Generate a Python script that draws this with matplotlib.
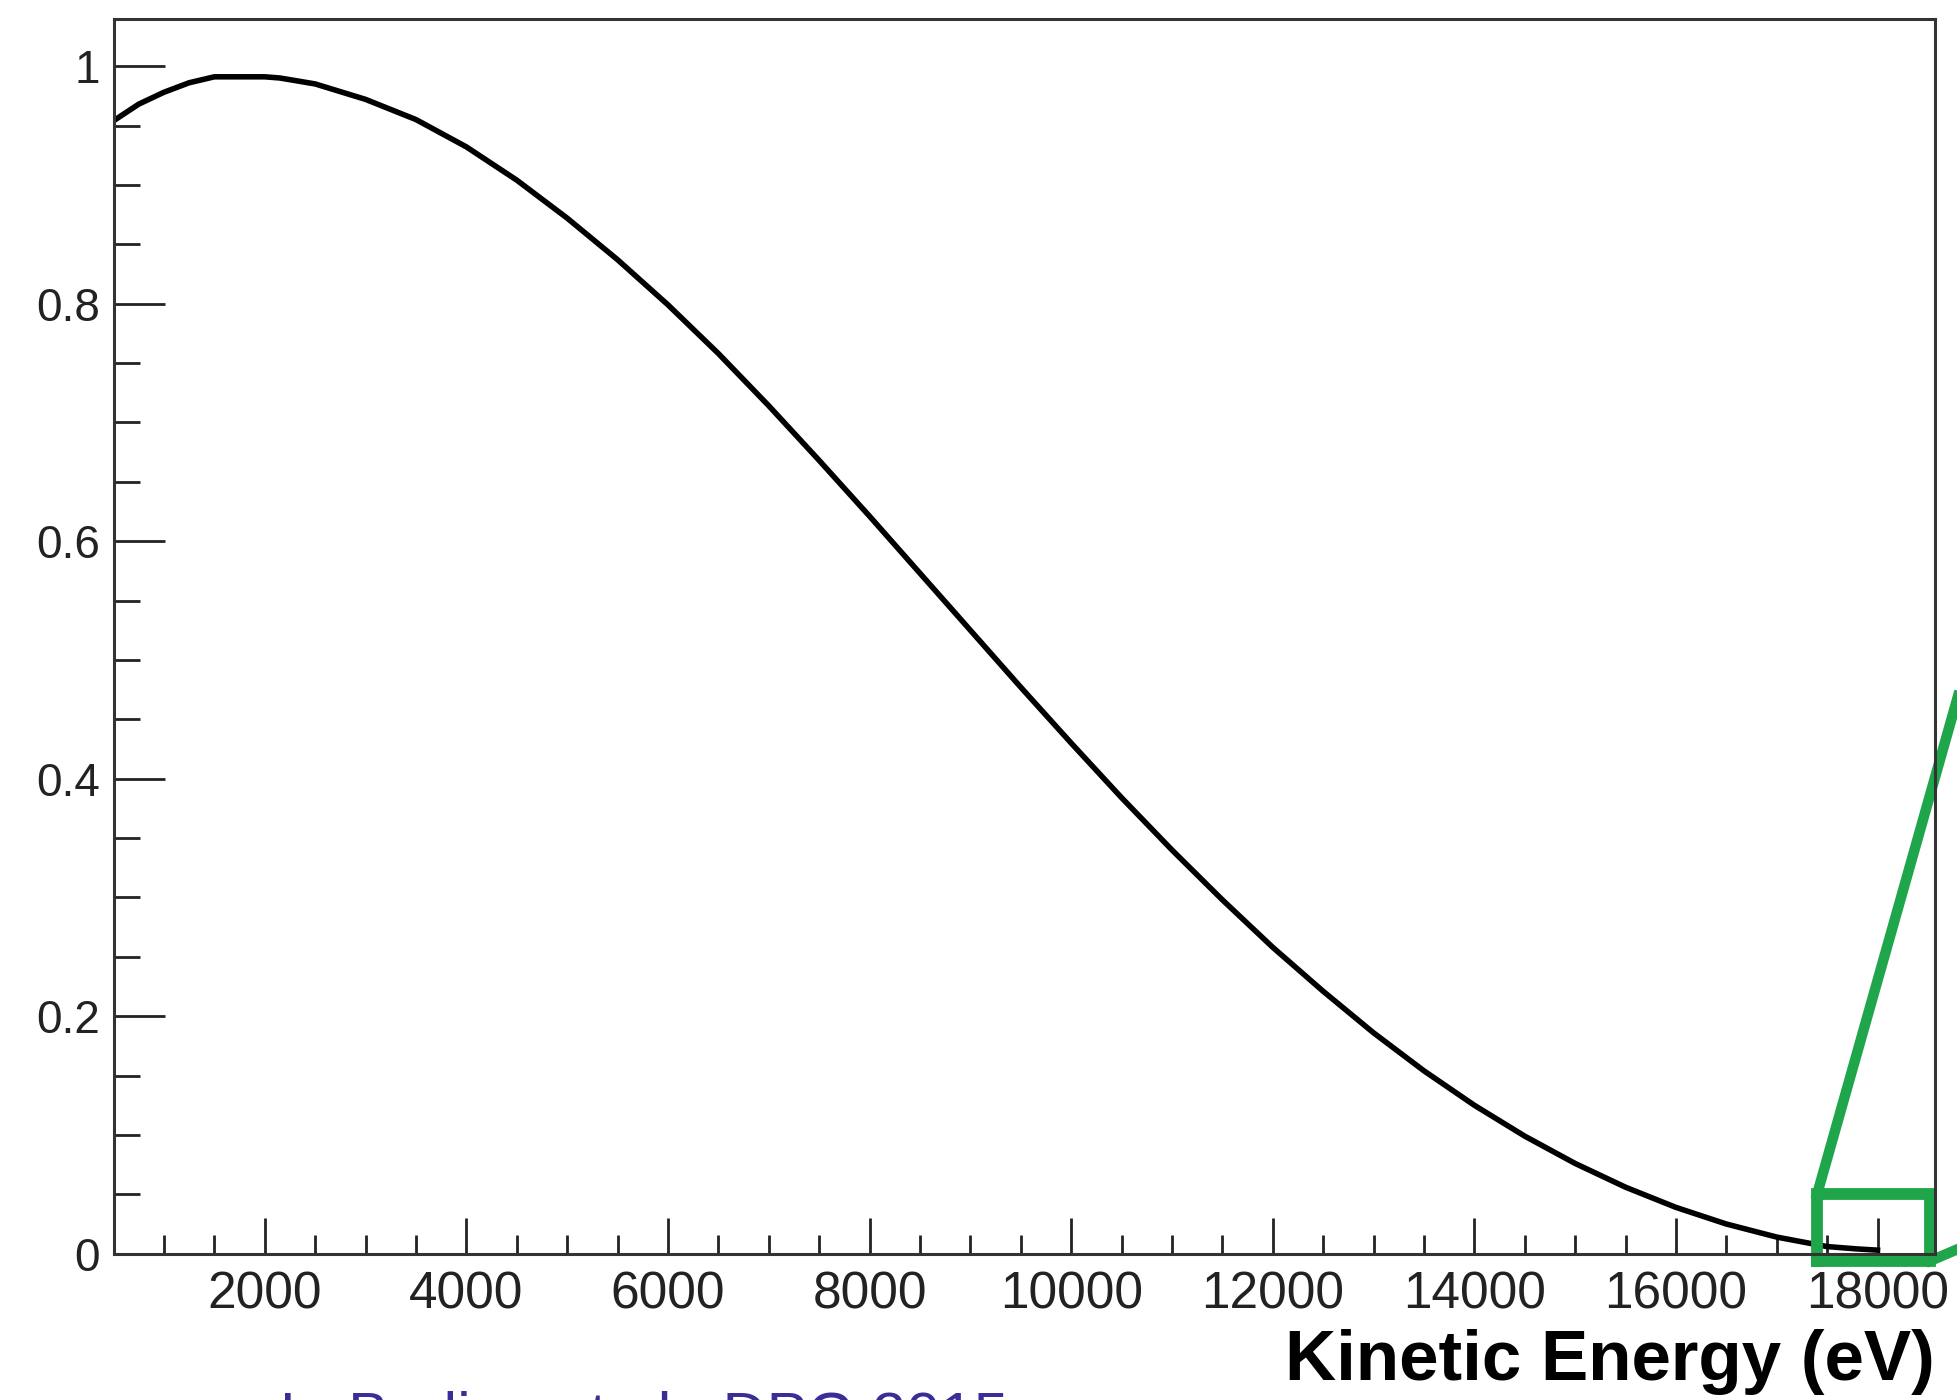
import numpy as np
import matplotlib
matplotlib.use('Agg')
from matplotlib import pyplot as plt
from matplotlib.ticker import MultipleLocator, FuncFormatter

# 读图得到的曲线点 (eV, 相对值)
energy = [500, 750, 1000, 1250, 1500, 2000, 2150, 2500, 3000, 3500, 4000, 4500,
          5000, 5500, 6000, 6500, 7000, 7500, 8000, 8500, 9000, 9500,
          10000, 10500, 11000, 11500, 12000, 12500, 13000, 13500, 14000,
          14500, 15000, 15500, 16000, 16500, 17000, 17500, 17800, 18000]
value = [0.954, 0.968, 0.978, 0.986, 0.991, 0.991, 0.990, 0.985, 0.972, 0.955,
         0.932, 0.904, 0.872, 0.837, 0.799, 0.758, 0.714, 0.668, 0.621, 0.573,
         0.525, 0.477, 0.430, 0.384, 0.340, 0.298, 0.258, 0.221, 0.186,
         0.154, 0.125, 0.099, 0.076, 0.056, 0.039, 0.025, 0.014, 0.006,
         0.004, 0.003]

x_ticks = [2000, 4000, 6000, 8000, 10000, 12000, 14000, 16000, 18000]
y_ticks = [0, 0.2, 0.4, 0.6, 0.8, 1]

x_label = 'Kinetic Energy (eV)'
credit = 'L. Bodine et al., DPG 2015'

# 绿色放大框 (数据坐标)
box_x = [17400, 18525]
box_y = [-0.006, 0.050]

plt.rcParams['font.family'] = ['Liberation Sans', 'DejaVu Sans']

fig = plt.figure(figsize=(19.58, 14.0), dpi=100)
ax = fig.add_axes([0.058, 0.1045, 0.9305, 0.8822])

ax.plot(energy, value, color='black', lw=4.0, solid_joinstyle='miter')

ax.set_xlim(500, 18575)
ax.set_ylim(0, 1.04)

ax.set_xticks(x_ticks)
ax.set_yticks(y_ticks)
ax.xaxis.set_minor_locator(MultipleLocator(500))
ax.yaxis.set_minor_locator(MultipleLocator(0.05))
ax.yaxis.set_major_formatter(FuncFormatter(lambda v, p: '%g' % v))

ax.tick_params(axis='x', which='major', direction='in', length=26, width=2,
               labelsize=37, pad=12, colors='#222222')
ax.tick_params(axis='x', which='minor', direction='in', length=14, width=2,
               colors='#222222')
ax.tick_params(axis='y', which='major', direction='in', length=37, width=2,
               labelsize=33, pad=10, colors='#222222')
ax.tick_params(axis='y', which='minor', direction='in', length=19, width=2,
               colors='#222222')

for s in ax.spines.values():
    s.set_linewidth(2.2)
    s.set_color('#333333')

fig.text(0.988, 0.014, x_label, ha='right', va='baseline', fontsize=51,
         fontweight='bold', color='black')
fig.text(0.143, -0.025, credit, ha='left', va='baseline', fontsize=44,
         color='#3a2e96')

# 绿色放大框与连线
green = '#1fa64a'
ax.plot([box_x[0], box_x[1], box_x[1], box_x[0], box_x[0]],
        [box_y[0], box_y[0], box_y[1], box_y[1], box_y[0]],
        color=green, lw=8.5, clip_on=False, solid_joinstyle='miter')
ax.plot([box_x[0], 18800], [box_y[1], 0.47], color=green, lw=7.5, clip_on=False)
ax.plot([box_x[1], 18800], [box_y[0], 0.004], color=green, lw=7.5, clip_on=False)

fig.savefig('out.png', dpi=100)
